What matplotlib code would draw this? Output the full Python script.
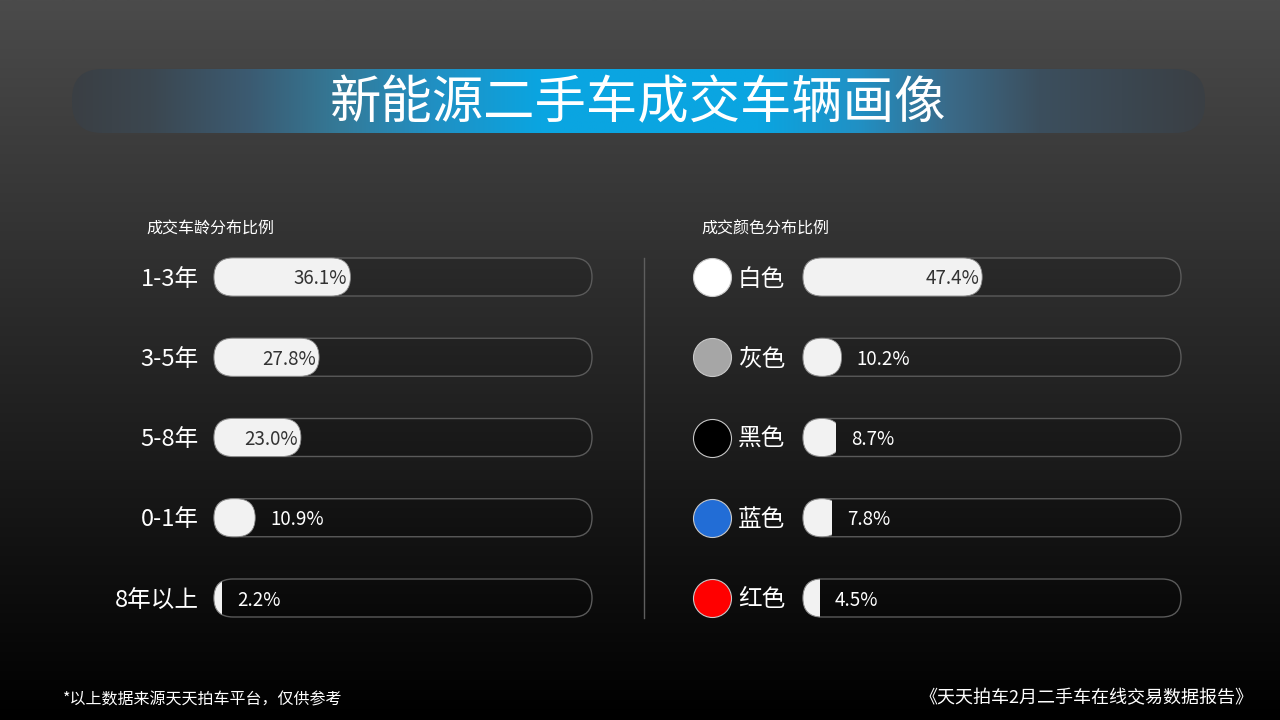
import numpy as np
import matplotlib
matplotlib.use('Agg')
import matplotlib.pyplot as plt
from matplotlib.patches import FancyBboxPatch, Rectangle
from matplotlib.colors import to_rgb

plt.rcParams['font.family'] = ['Noto Sans CJK SC', 'DejaVu Sans']

# chart data
title = '新能源二手车成交车辆画像'
age_title = '成交车龄分布比例'
age_labels = ['1-3年', '3-5年', '5-8年', '0-1年', '8年以上']
age_values = [36.1, 27.8, 23.0, 10.9, 2.2]
color_title = '成交颜色分布比例'
color_labels = ['白色', '灰色', '黑色', '蓝色', '红色']
color_values = [47.4, 10.2, 8.7, 7.8, 4.5]
swatches = ['#ffffff', '#a6a6a6', '#000000', '#226dd6', '#ff0000']
note_left = '*以上数据来源天天拍车平台，仅供参考'
note_right = '《天天拍车2月二手车在线交易数据报告》'

W, H = 1280, 720
fig = plt.figure(figsize=(12.8, 7.2), dpi=100)

# background axes in pixel coords
bg = fig.add_axes([0, 0, 1, 1])
bg.set_xlim(0, W)
bg.set_ylim(H, 0)
bg.axis('off')

# vertical dark gradient
t = np.linspace(0, 1, 256)[:, None]
top = np.array(to_rgb('#4b4b4b'))
grad = (1 - t)[..., None] * top[None, None, :]
grad = np.repeat(grad, 2, axis=1)
bg.imshow(grad, extent=(0, W, H, 0), aspect='auto', zorder=0)

# title banner with horizontal gradient
bx0, bx1, by0, by1 = 72, 1205, 69, 133
stops_x = [72, 150, 250, 340, 430, 540, 760, 860, 950, 1040, 1205]
stops_c = ['#3a3f44', '#3c4750', '#3b5b72', '#347a98', '#218fc2', '#0aa5e1',
           '#0aa5e1', '#2190c4', '#3a6a88', '#3c4f5e', '#3a3f44']
xs = np.linspace(bx0, bx1, 600)
rgb = np.array([to_rgb(c) for c in stops_c])
band = np.stack([np.interp(xs, stops_x, rgb[:, k]) for k in range(3)], axis=-1)[None, :, :]
banner = FancyBboxPatch((bx0, by0), bx1 - bx0, by1 - by0,
                        boxstyle='round,pad=0,rounding_size=30',
                        facecolor='none', edgecolor='none', zorder=1)
bg.add_patch(banner)
im = bg.imshow(band, extent=(bx0, bx1, by1, by0), aspect='auto', zorder=1)
im.set_clip_path(banner)
bg.text(638, 104, title, color='white', fontsize=37, fontweight='light',
        ha='center', va='center', zorder=2)

# separator
bg.plot([644, 644], [258, 618], color='#5e5e5e', lw=1, zorder=2)

# footers
bg.text(63, 700, note_left, color='white', fontsize=11.5, ha='left', va='center')
bg.text(1253, 698, note_right, color='white', fontsize=13, ha='right', va='center')

# subtitles
bg.text(146, 228, age_title, color='white', fontsize=11.5, ha='left', va='center')
bg.text(701, 228, color_title, color='white', fontsize=11.5, ha='left', va='center')

# panel geometry (pixels)
track_w = 378
row_gap = 80.25
first_row = 277
bar_h_px = 38


def make_panel(left_px):
    top_px = first_row - row_gap / 2
    height_px = row_gap * 5
    ax = fig.add_axes([left_px / W, (H - top_px - height_px) / H,
                       track_w / W, height_px / H])
    ax.set_xlim(0, 100)
    ax.set_ylim(4.5, -0.5)
    ax.axis('off')
    return ax


def draw_bars(ax, labels, values, swatch=None):
    xu = 100 / track_w            # x units per pixel
    yu = 5 / (row_gap * 5)        # y units per pixel
    ma = yu / xu
    h = bar_h_px * yu
    r = (bar_h_px / 2) * xu * 0.999
    ty = 2 * yu                   # small nudge so text sits on the bar centre
    for i, (lab, v) in enumerate(zip(labels, values)):
        track = FancyBboxPatch((0, i - h / 2), 100, h,
                               boxstyle=f'round,pad=0,rounding_size={r}',
                               mutation_aspect=ma, facecolor=(0, 0, 0, 0.12),
                               edgecolor='#5a5a5a', lw=1, clip_on=False, zorder=2)
        ax.add_patch(track)
        fw = max(v, 2 * r)
        fill = FancyBboxPatch((0, i - h / 2), fw, h,
                              boxstyle=f'round,pad=0,rounding_size={r}',
                              mutation_aspect=ma, facecolor='#f2f2f2',
                              edgecolor='#8a8a8a', lw=0.6, zorder=3)
        ax.add_patch(fill)
        if v < 2 * r:
            clip = Rectangle((-1, i - h), v + 1, 2 * h, transform=ax.transData)
            fill.set_clip_path(clip)
            fill.set_clip_on(True)
        else:
            fill.set_clip_on(False)
        if v > 15:
            ax.text(v - 0.8, i + ty, f'{v:.1f}%', color='#333333', fontsize=13.5,
                    ha='right', va='center', zorder=4)
        else:
            ax.text(v + 15 * xu, i + ty, f'{v:.1f}%', color='white', fontsize=13.5,
                    ha='left', va='center', zorder=4)
        if swatch is None:
            ax.text(-15 * xu, i + ty, lab, color='white', fontsize=17,
                    ha='right', va='center')
        else:
            ax.scatter([-91 * xu], [i], s=(bar_h_px * 0.72) ** 2, color=swatch[i],
                       edgecolors='#c8c8c8', linewidths=0.8, clip_on=False, zorder=3)
            ax.text(-65 * xu, i + ty, lab, color='white', fontsize=17,
                    ha='left', va='center')


ax_age = make_panel(214)
draw_bars(ax_age, age_labels, age_values)
ax_color = make_panel(803)
draw_bars(ax_color, color_labels, color_values, swatches)

fig.savefig('out.png', dpi=100)
